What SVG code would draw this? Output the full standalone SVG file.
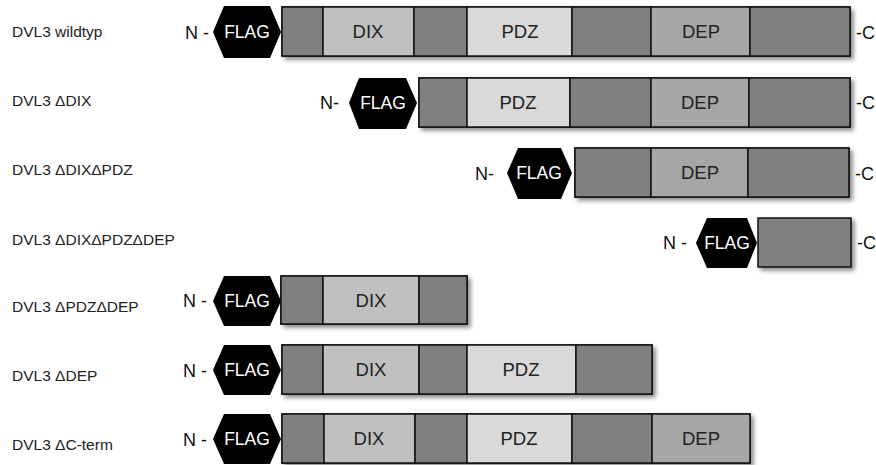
<svg xmlns="http://www.w3.org/2000/svg" width="876" height="465" viewBox="0 0 876 465">
  <style>
    .lbl { font-family: "Liberation Sans", Arial, sans-serif; font-size: 15.5px; fill: #222; }
    .term { font-family: "Liberation Sans", Arial, sans-serif; font-size: 18px; fill: #111; }
    .seg { stroke: #111; stroke-width: 1.5; }
    .dk { fill: #808080; }
    .dix { fill: #c0c0c0; }
    .pdz { fill: #d9d9d9; }
    .dep { fill: #a6a6a6; }
    .stxt { font-family: "Liberation Sans", Arial, sans-serif; font-size: 18.5px; fill: #222; text-anchor: middle; }
    .hex { fill: #000; }
    .flag { font-family: "Liberation Sans", Arial, sans-serif; font-size: 17.5px; fill: #fff; text-anchor: middle; }
    .box { fill: #808080; stroke: #111; stroke-width: 1.5; filter: url(#shadow); }
  </style>
  <defs>
    <filter id="shadow" x="-5%" y="-20%" width="115%" height="160%">
      <feDropShadow dx="3" dy="3" stdDeviation="2" flood-color="#000" flood-opacity="0.45"/>
    </filter>
  </defs>
  <rect width="876" height="465" fill="#fff"/>

  <!-- DVL3 wildtyp -->
  <g id="wildtyp">
    <text class="lbl" x="12" y="37">DVL3 wildtyp</text>
    <text class="term" x="185" y="39">N -</text>
    <polygon class="hex" points="213,32 224,6 270,6 281,32 270,58 224,58"/>
    <text class="flag" x="247" y="38">FLAG</text>
    <rect class="box" x="282" y="7" width="568" height="49"/>
    <rect class="seg dk" x="282" y="7" width="41" height="49"/>
    <rect class="seg dix" x="323" y="7" width="91" height="49"/>
    <rect class="seg dk" x="414" y="7" width="53" height="49"/>
    <rect class="seg pdz" x="467" y="7" width="105" height="49"/>
    <rect class="seg dk" x="572" y="7" width="79" height="49"/>
    <rect class="seg dep" x="651" y="7" width="99" height="49"/>
    <rect class="seg dk" x="750" y="7" width="100" height="49"/>
    <text class="stxt" x="368" y="38">DIX</text>
    <text class="stxt" x="520" y="38">PDZ</text>
    <text class="stxt" x="701" y="38">DEP</text>
    <text class="term" x="856" y="39">-C</text>
  </g>

  <!-- DVL3 ΔDIX -->
  <g id="delta-dix">
    <text class="lbl" x="12" y="106">DVL3 ΔDIX</text>
    <text class="term" x="320" y="109">N-</text>
    <polygon class="hex" points="349,103 359,78 406,78 417,103 406,129 359,129"/>
    <text class="flag" x="383" y="109">FLAG</text>
    <rect class="box" x="419" y="78" width="431" height="49"/>
    <rect class="seg dk" x="419" y="78" width="48" height="49"/>
    <rect class="seg pdz" x="467" y="78" width="103" height="49"/>
    <rect class="seg dk" x="570" y="78" width="81" height="49"/>
    <rect class="seg dep" x="651" y="78" width="98" height="49"/>
    <rect class="seg dk" x="749" y="78" width="101" height="49"/>
    <text class="stxt" x="518" y="109">PDZ</text>
    <text class="stxt" x="700" y="109">DEP</text>
    <text class="term" x="856" y="109">-C</text>
  </g>

  <!-- DVL3 ΔDIXΔPDZ -->
  <g id="delta-dix-pdz">
    <text class="lbl" x="12" y="175">DVL3 ΔDIXΔPDZ</text>
    <text class="term" x="475" y="180">N-</text>
    <polygon class="hex" points="507,173 518,148 561,148 572,173 561,199 518,199"/>
    <text class="flag" x="539" y="179">FLAG</text>
    <rect class="box" x="575" y="148" width="274" height="49"/>
    <rect class="seg dk" x="575" y="148" width="76" height="49"/>
    <rect class="seg dep" x="651" y="148" width="97" height="49"/>
    <rect class="seg dk" x="748" y="148" width="101" height="49"/>
    <text class="stxt" x="700" y="179">DEP</text>
    <text class="term" x="855" y="180">-C</text>
  </g>

  <!-- DVL3 ΔDIXΔPDZΔDEP -->
  <g id="delta-dix-pdz-dep">
    <text class="lbl" x="12" y="245">DVL3 ΔDIXΔPDZΔDEP</text>
    <text class="term" x="663" y="249">N -</text>
    <polygon class="hex" points="696,243 707,218 747,218 757,243 747,268 707,268"/>
    <text class="flag" x="727" y="249">FLAG</text>
    <rect class="box" x="758" y="218" width="93" height="49"/>
    <text class="term" x="857" y="249">-C</text>
  </g>

  <!-- DVL3 ΔPDZΔDEP -->
  <g id="delta-pdz-dep">
    <text class="lbl" x="12" y="312">DVL3 ΔPDZΔDEP</text>
    <text class="term" x="183" y="307">N -</text>
    <polygon class="hex" points="213,301 224,276 270,276 281,301 270,326 224,326"/>
    <text class="flag" x="247" y="307">FLAG</text>
    <rect class="box" x="281" y="276" width="186" height="48"/>
    <rect class="seg dk" x="281" y="276" width="42" height="48"/>
    <rect class="seg dix" x="323" y="276" width="96" height="48"/>
    <rect class="seg dk" x="419" y="276" width="48" height="48"/>
    <text class="stxt" x="371" y="307">DIX</text>
  </g>

  <!-- DVL3 ΔDEP -->
  <g id="delta-dep">
    <text class="lbl" x="12" y="381">DVL3 ΔDEP</text>
    <text class="term" x="183" y="377">N -</text>
    <polygon class="hex" points="213,370 224,345 270,345 281,370 270,395 224,395"/>
    <text class="flag" x="247" y="376">FLAG</text>
    <rect class="box" x="282" y="345" width="370" height="49"/>
    <rect class="seg dk" x="282" y="345" width="41" height="49"/>
    <rect class="seg dix" x="323" y="345" width="96" height="49"/>
    <rect class="seg dk" x="419" y="345" width="48" height="49"/>
    <rect class="seg pdz" x="467" y="345" width="109" height="49"/>
    <rect class="seg dk" x="576" y="345" width="76" height="49"/>
    <text class="stxt" x="371" y="376">DIX</text>
    <text class="stxt" x="521" y="376">PDZ</text>
  </g>

  <!-- DVL3 ΔC-term -->
  <g id="delta-cterm">
    <text class="lbl" x="12" y="450">DVL3 ΔC-term</text>
    <text class="term" x="183" y="446">N -</text>
    <polygon class="hex" points="213,439 224,414 270,414 281,439 270,464 224,464"/>
    <text class="flag" x="247" y="445">FLAG</text>
    <rect class="box" x="282" y="414" width="468" height="49"/>
    <rect class="seg dk" x="282" y="414" width="42" height="49"/>
    <rect class="seg dix" x="324" y="414" width="91" height="49"/>
    <rect class="seg dk" x="415" y="414" width="52" height="49"/>
    <rect class="seg pdz" x="467" y="414" width="105" height="49"/>
    <rect class="seg dk" x="572" y="414" width="80" height="49"/>
    <rect class="seg dep" x="652" y="414" width="98" height="49"/>
    <text class="stxt" x="369" y="445">DIX</text>
    <text class="stxt" x="519" y="445">PDZ</text>
    <text class="stxt" x="701" y="445">DEP</text>
  </g>
</svg>
